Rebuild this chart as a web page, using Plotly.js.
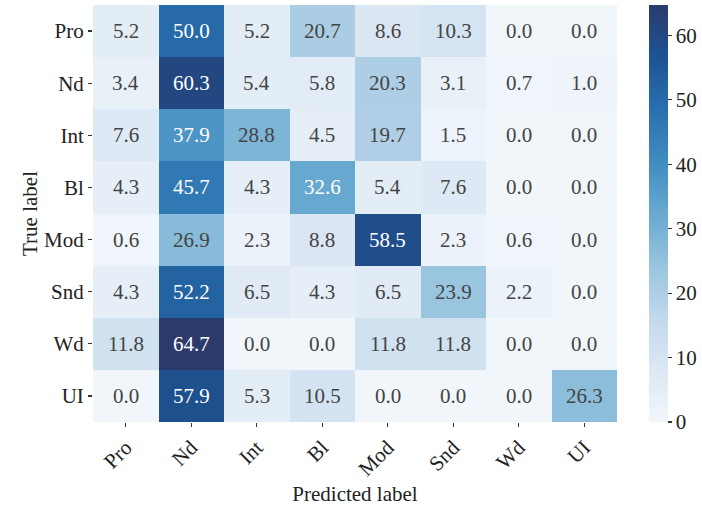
<!DOCTYPE html>
<html>
<head>
<meta charset="utf-8">
<script src="https://cdn.plot.ly/plotly-3.0.1.min.js"></script>
<style>html,body{margin:0;padding:0;background:#fff;}#chart{width:702px;height:506px;}</style>
</head>
<body>
<div id="chart"></div>
<script>
const predictedLabels = ["Pro", "Nd", "Int", "Bl", "Mod", "Snd", "Wd", "UI"];
const trueLabels = ["Pro", "Nd", "Int", "Bl", "Mod", "Snd", "Wd", "UI"];
const rowPro = [5.2, 50.0, 5.2, 20.7, 8.6, 10.3, 0.0, 0.0];
const rowNd  = [3.4, 60.3, 5.4, 5.8, 20.3, 3.1, 0.7, 1.0];
const rowInt = [7.6, 37.9, 28.8, 4.5, 19.7, 1.5, 0.0, 0.0];
const rowBl  = [4.3, 45.7, 4.3, 32.6, 5.4, 7.6, 0.0, 0.0];
const rowMod = [0.6, 26.9, 2.3, 8.8, 58.5, 2.3, 0.6, 0.0];
const rowSnd = [4.3, 52.2, 6.5, 4.3, 6.5, 23.9, 2.2, 0.0];
const rowWd  = [11.8, 64.7, 0.0, 0.0, 11.8, 11.8, 0.0, 0.0];
const rowUI  = [0.0, 57.9, 5.3, 10.5, 0.0, 0.0, 0.0, 26.3];
const colorbarTicks = [0, 10, 20, 30, 40, 50, 60];

const z = [rowPro, rowNd, rowInt, rowBl, rowMod, rowSnd, rowWd, rowUI];
const zmax = Math.max(...z.flat());

const blues = [
  [0.0, "#f1f6fb"], [0.125, "#dce8f4"], [0.25, "#c2d8ec"], [0.375, "#98c4de"],
  [0.5, "#68a9d0"], [0.625, "#3f8cc0"], [0.75, "#2a6fae"], [0.875, "#1c5494"], [1.0, "#2b3a6b"]
];

const FONT = "'Liberation Serif', 'Times New Roman', serif";

const annotations = [];
z.forEach((row, i) => {
  row.forEach((v, j) => {
    annotations.push({
      x: predictedLabels[j], y: trueLabels[i], xref: "x", yref: "y",
      text: v.toFixed(1), showarrow: false,
      font: {family: FONT, size: 21, color: v > 30 ? "#ffffff" : "#444444"}
    });
  });
});

const trace = {
  type: "heatmap",
  x: predictedLabels,
  y: trueLabels,
  z: z,
  zmin: 0,
  zmax: zmax,
  colorscale: blues,
  hoverinfo: "none",
  colorbar: {
    x: 1.0604, xanchor: "left", xpad: 0,
    y: 0.5, yanchor: "middle", len: 1.0, lenmode: "fraction", ypad: 0,
    thickness: 19, thicknessmode: "pixels",
    outlinewidth: 0,
    tickvals: colorbarTicks,
    ticks: "outside", ticklen: 4, tickwidth: 1.2, tickcolor: "#333",
    tickfont: {family: FONT, size: 21, color: "#222"}
  }
};

const layout = {
  width: 702, height: 506,
  margin: {l: 93, r: 79, t: 5, b: 84},
  paper_bgcolor: "#ffffff", plot_bgcolor: "#ffffff",
  font: {family: FONT, color: "#222"},
  xaxis: {
    type: "category", tickangle: -45,
    ticks: "outside", ticklen: 4, tickwidth: 1.2, tickcolor: "#333",
    tickfont: {family: FONT, size: 21, color: "#222"},
    showgrid: false, zeroline: false, showline: false,
    title: {text: "Predicted label", font: {family: FONT, size: 21, color: "#222"}, standoff: 6}
  },
  yaxis: {
    type: "category", autorange: "reversed",
    ticks: "outside", ticklen: 4, tickwidth: 1.2, tickcolor: "#333",
    tickfont: {family: FONT, size: 21, color: "#222"},
    showgrid: false, zeroline: false, showline: false,
    title: {text: "True label", font: {family: FONT, size: 21, color: "#222"}, standoff: 0}
  },
  annotations: annotations
};

Plotly.newPlot("chart", [trace], layout, {displayModeBar: false, staticPlot: true});
</script>
</body>
</html>
